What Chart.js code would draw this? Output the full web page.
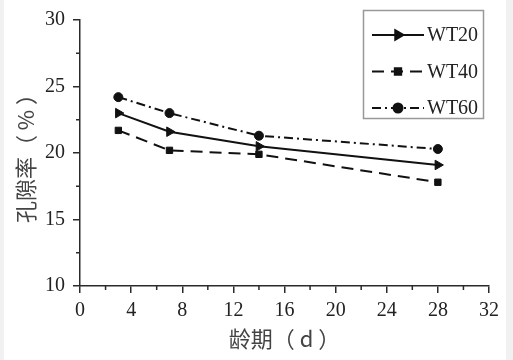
<!DOCTYPE html>
<html>
<head>
<meta charset="utf-8">
<script src="https://cdn.jsdelivr.net/npm/chart.js@4"></script>
<style>
html,body{margin:0;padding:0;background:#fff;}
#wrap{width:513px;height:360px;position:relative;}
</style>
</head>
<body>
<div id="wrap"><canvas id="c" width="513" height="360"></canvas></div>
<script>
const ages = [3, 7, 14, 28];
const seriesNames = ['WT20', 'WT40', 'WT60'];
const wt20 = [23.0, 21.6, 20.5, 19.1];
const wt40 = [21.7, 20.2, 19.9, 17.8];
const wt60 = [24.2, 23.0, 21.3, 20.3];
const xTicks = [0, 4, 8, 12, 16, 20, 24, 28, 32];
const yTicks = [10, 15, 20, 25, 30];
const xTitle = '龄期（ d ）';
const yTitle = '孔隙率（ % ）';

const ink = '#111';
const axisCol = '#2a2a2a';
const serif = "'Liberation Serif', 'Noto Sans CJK SC', serif";
const cjk = "'Noto Sans CJK SC', 'Liberation Serif', serif";

function pts(vals){ return ages.map((a,i)=>({x:a, y:vals[i]})); }

const styles = [
  {dash: [], point: 'triangle', rot: 90, r: 5.5},
  {dash: [12, 7], point: 'rect', rot: 0, r: 4.5},
  {dash: [9, 4, 2, 4], point: 'circle', rot: 0, r: 4.5}
];
const allVals = [wt20, wt40, wt60];

const datasets = allVals.map((v, i) => ({
  label: seriesNames[i],
  data: pts(v),
  showLine: true,
  borderColor: ink,
  backgroundColor: ink,
  borderWidth: 2,
  borderDash: styles[i].dash,
  pointStyle: styles[i].point,
  pointRotation: styles[i].rot,
  pointRadius: styles[i].r,
  pointBorderWidth: 1,
  tension: 0
}));

const framePlugin = {
  id: 'frame',
  beforeDraw(chart){
    const ctx = chart.ctx;
    ctx.save();
    ctx.fillStyle = '#fff';
    ctx.fillRect(0,0,chart.width,chart.height);
    ctx.fillStyle = '#f1f1f1';
    ctx.fillRect(0,0,4,chart.height);
    ctx.fillRect(chart.width-7,0,7,chart.height);
    ctx.restore();
  }
};

const minorPlugin = {
  id: 'minor',
  afterDraw(chart){
    const ctx = chart.ctx;
    const xs = chart.scales.x, ys = chart.scales.y;
    ctx.save();
    ctx.strokeStyle = axisCol;
    ctx.lineWidth = 1.5;
    ctx.beginPath();
    for (let i = 0; i < xTicks.length - 1; i++) {
      const v = (xTicks[i] + xTicks[i+1]) / 2;
      const px = xs.getPixelForValue(v);
      ctx.moveTo(px, ys.bottom);
      ctx.lineTo(px, ys.bottom + 4);
    }
    for (let i = 0; i < yTicks.length - 1; i++) {
      const v = (yTicks[i] + yTicks[i+1]) / 2;
      const py = ys.getPixelForValue(v);
      ctx.moveTo(xs.left, py);
      ctx.lineTo(xs.left - 4, py);
    }
    ctx.stroke();
    ctx.restore();
  }
};

const legendPlugin = {
  id: 'boxLegend',
  afterDraw(chart){
    const ctx = chart.ctx;
    ctx.save();
    ctx.strokeStyle = '#999';
    ctx.lineWidth = 1.5;
    ctx.fillStyle = '#fff';
    ctx.fillRect(363.5, 10.5, 120, 108);
    ctx.strokeRect(363.5, 10.5, 120, 108);
    chart.data.datasets.forEach((ds, i) => {
      const y = 35 + i * 36.5;
      ctx.strokeStyle = ink;
      ctx.lineWidth = 2;
      ctx.setLineDash(ds.borderDash);
      ctx.beginPath();
      ctx.moveTo(372, y);
      ctx.lineTo(424, y);
      ctx.stroke();
      ctx.setLineDash([]);
      ctx.fillStyle = ink;
      Chart.helpers.drawPoint(ctx, {pointStyle: ds.pointStyle, radius: ds.pointRadius, rotation: ds.pointRotation, borderWidth: 1}, 398, y);
      ctx.fillStyle = '#222';
      ctx.font = "20px 'Liberation Serif', serif";
      ctx.textBaseline = 'middle';
      ctx.textAlign = 'left';
      ctx.fillText(ds.label, 427, y + 1);
    });
    ctx.restore();
  }
};

new Chart(document.getElementById('c'), {
  type: 'scatter',
  data: { datasets },
  plugins: [framePlugin, minorPlugin, legendPlugin],
  options: {
    responsive: false,
    animation: false,
    layout: { padding: { top: 15, right: 24, left: 0, bottom: 0 } },
    plugins: { legend: { display: false }, tooltip: { enabled: false } },
    scales: {
      x: {
        type: 'linear',
        min: xTicks[0], max: xTicks[xTicks.length-1],
        afterBuildTicks: s => { s.ticks = xTicks.map(v => ({value: v})); },
        afterFit: s => { s.height = 74; },
        border: { display: true, color: axisCol, width: 1.5 },
        grid: { display: true, drawOnChartArea: false, drawTicks: true, tickLength: 7, color: axisCol, lineWidth: 1.5 },
        ticks: { color: '#222', font: { family: serif, size: 20 }, padding: 6, maxRotation: 0 },
        title: { display: true, text: xTitle, color: '#444', font: { family: cjk, size: 22 }, padding: { top: 0, bottom: 8 } }
      },
      y: {
        type: 'linear',
        min: yTicks[0], max: yTicks[yTicks.length-1],
        afterBuildTicks: s => { s.ticks = yTicks.map(v => ({value: v})); },
        afterFit: s => { s.width = 80; },
        border: { display: true, color: axisCol, width: 1.5 },
        grid: { display: true, drawOnChartArea: false, drawTicks: true, tickLength: 7, color: axisCol, lineWidth: 1.5 },
        ticks: { color: '#222', font: { family: serif, size: 20 }, padding: 8 },
        title: { display: true, text: yTitle, color: '#444', font: { family: cjk, size: 22 }, padding: { top: 12, bottom: 0 } }
      }
    }
  }
});
</script>
</body>
</html>
